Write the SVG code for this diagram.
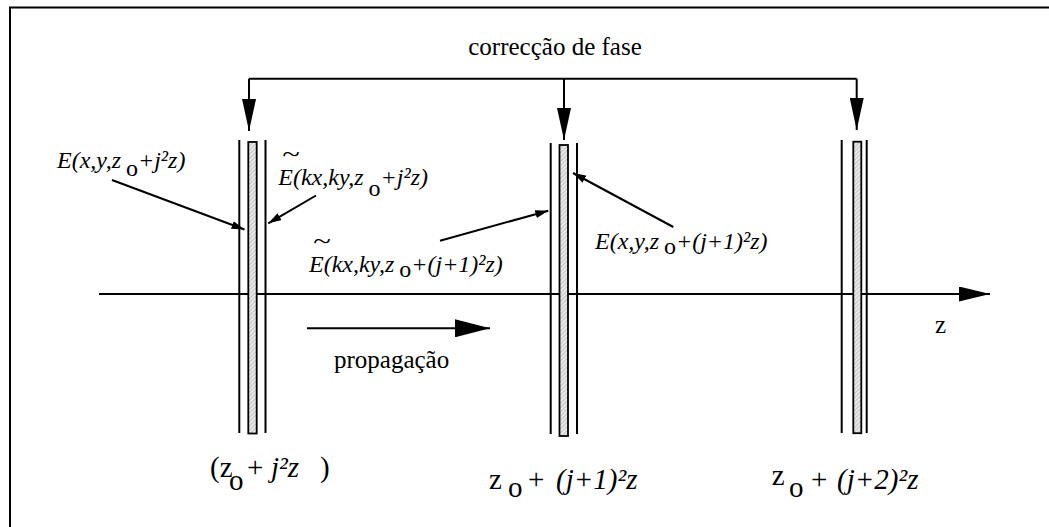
<svg xmlns="http://www.w3.org/2000/svg" width="1049" height="527" viewBox="0 0 1049 527">
<style>
.ln{stroke:#000;stroke-width:2;fill:none}
.pl{stroke:#000;stroke-width:2}
.pr{stroke:#000;stroke-width:1.8;fill:url(#hatch)}
text{font-family:'Liberation Serif','Times New Roman','DejaVu Serif',serif;fill:#000}
.r{font-size:25px}
.it{font-size:24px;font-style:italic}
.up{font-style:normal}
.b{font-size:29px}
.bi{font-style:italic}
.tl{font-size:26px}
</style>
<defs>
<pattern id="hatch" width="3" height="3" patternUnits="userSpaceOnUse" patternTransform="rotate(45)">
<rect width="3" height="3" fill="#e9e9e9"/>
<line x1="0" y1="0" x2="0" y2="3" stroke="#a0a0a0" stroke-width="1"/>
</pattern>
<marker id="big" viewBox="0 0 32 14" refX="32" refY="7" markerWidth="32" markerHeight="14" markerUnits="userSpaceOnUse" orient="auto"><path d="M0,0L32,7L0,14z" fill="#000"/></marker>
<marker id="ax" viewBox="0 0 31 15" refX="31" refY="7.5" markerWidth="31" markerHeight="15" markerUnits="userSpaceOnUse" orient="auto"><path d="M0,0L31,7.5L0,15z" fill="#000"/></marker>
<marker id="pg" viewBox="0 0 35 18" refX="35" refY="9" markerWidth="35" markerHeight="18" markerUnits="userSpaceOnUse" orient="auto"><path d="M0,0L35,9L0,18z" fill="#000"/></marker>
<marker id="sm" viewBox="0 0 13 8" refX="13" refY="4" markerWidth="13" markerHeight="8" markerUnits="userSpaceOnUse" orient="auto"><path d="M0,0L13,4L0,8z" fill="#000"/></marker>
</defs>
<rect width="1049" height="527" fill="#fff"/>
<g id="frame"><path class="ln" d="M10,527V7.5H1049"/></g>
<g id="connectors">
<path class="ln" d="M249,78.7H856.7"/>
<line class="ln" x1="249" y1="78.7" x2="249" y2="131" marker-end="url(#big)"/>
<line class="ln" x1="564" y1="78.7" x2="564" y2="140" marker-end="url(#big)"/>
<line class="ln" x1="856.7" y1="78.7" x2="856.7" y2="130" marker-end="url(#big)"/>
<line class="ln" x1="99" y1="294" x2="990" y2="294" marker-end="url(#ax)"/>
<line class="ln" x1="307" y1="328.3" x2="490" y2="328.3" marker-end="url(#pg)"/>
<line class="ln" x1="112" y1="180" x2="244.5" y2="229.5" marker-end="url(#sm)"/>
<line class="ln" x1="316" y1="195.5" x2="268.3" y2="223.3" marker-end="url(#sm)"/>
<line class="ln" x1="440" y1="240.7" x2="548.3" y2="210.7" marker-end="url(#sm)"/>
<line class="ln" x1="673.3" y1="227" x2="573" y2="173" marker-end="url(#sm)"/>
</g>
<g id="plate1">
<line class="pl" x1="239.3" y1="140" x2="239.3" y2="433"/>
<rect class="pr" x="248.3" y="142" width="8.4" height="291.5"/>
<line class="pl" x1="265.5" y1="140" x2="265.5" y2="433"/>
</g>
<g id="plate2">
<line class="pl" x1="550.7" y1="143" x2="550.7" y2="434"/>
<rect class="pr" x="559.5" y="145" width="8.5" height="291"/>
<line class="pl" x1="577" y1="143" x2="577" y2="434"/>
</g>
<g id="plate3">
<line class="pl" x1="841.7" y1="140" x2="841.7" y2="433"/>
<rect class="pr" x="853.3" y="141.7" width="8" height="291.5"/>
<line class="pl" x1="866.7" y1="140" x2="866.7" y2="433"/>
</g>
<g id="label-fase"><text class="r" x="555" y="55" text-anchor="middle">correcção de fase</text></g>
<g id="label-prop"><text class="r" x="334" y="368">propagação</text></g>
<g id="label-z"><text class="r" x="935" y="332.7">z</text></g>
<g id="label-E1"><text class="it" x="57" y="168">E(x,y,z<tspan class="up" dx="5" dy="8">o</tspan><tspan dy="-8">+j²z)</tspan></text></g>
<g id="label-E2">
<text class="tl" x="291" y="162" text-anchor="middle" transform="translate(291 0) scale(1.25 1) translate(-291 0)">~</text>
<text class="it" x="278.3" y="185">E(kx,ky,z<tspan class="up" dx="5" dy="11">o</tspan><tspan dy="-11">+j²z)</tspan></text>
</g>
<g id="label-E3">
<text class="tl" x="322" y="249" text-anchor="middle" transform="translate(322 0) scale(1.25 1) translate(-322 0)">~</text>
<text class="it" x="309" y="272">E(kx,ky,z<tspan class="up" dx="5" dy="5">o</tspan><tspan dy="-5">+(j+1)²z)</tspan></text>
</g>
<g id="label-E4"><text class="it" x="595" y="249">E(x,y,z<tspan class="up" dx="5" dy="5">o</tspan><tspan dy="-5">+(j+1)²z)</tspan></text></g>
<g id="label-b1"><text class="b"><tspan x="210" y="476.7">(z</tspan><tspan x="229" y="490">o</tspan><tspan x="247" y="476.7">+</tspan><tspan class="bi" x="271" y="476.7">j²z</tspan><tspan x="320" y="476.7">)</tspan></text></g>
<g id="label-b2"><text class="b"><tspan x="489" y="489">z</tspan><tspan x="508" y="497">o</tspan><tspan x="528" y="489">+</tspan><tspan class="bi" x="556" y="489">(j+1)²z</tspan></text></g>
<g id="label-b3"><text class="b"><tspan x="771.7" y="485">z</tspan><tspan x="789" y="497">o</tspan><tspan x="811" y="489">+</tspan><tspan class="bi" x="837" y="489">(j+2)²z</tspan></text></g>
</svg>
